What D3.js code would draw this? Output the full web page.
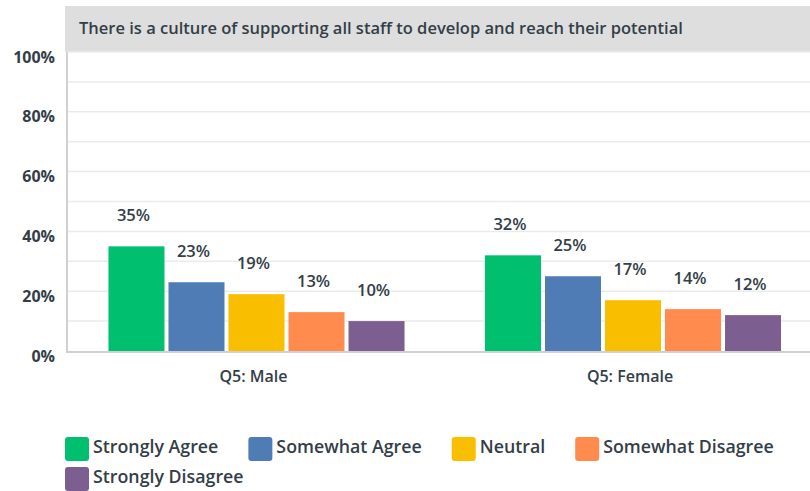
<!DOCTYPE html>
<html>
<head>
<meta charset="utf-8">
<script src="https://cdn.jsdelivr.net/npm/d3@7"></script>
<style>
  body { margin: 0; background: #fff; }
  svg text { font-family: "Open Sans", Roboto, sans-serif; fill: #333e48; }
</style>
</head>
<body>
<div id="chart"></div>
<script>
// data
var groups = ["Q5: Male", "Q5: Female"];
var series = ["Strongly Agree", "Somewhat Agree", "Neutral", "Somewhat Disagree", "Strongly Disagree"];
var colors = ["#00bf6f", "#507cb6", "#f9be00", "#ff8b4f", "#7d5e90"];
var maleValues = [35, 23, 19, 13, 10];
var femaleValues = [32, 25, 17, 14, 12];
var yTicks = [0, 20, 40, 60, 80, 100];
var title = "There is a culture of supporting all staff to develop and reach their potential";

var width = 810, height = 491;

var svg = d3.select("#chart").append("svg")
    .attr("width", width)
    .attr("height", height);

// title band
svg.append("rect")
    .attr("x", 65).attr("y", 6)
    .attr("width", width - 65).attr("height", 46)
    .style("fill", "#dedede");
svg.append("text")
    .attr("x", 79).attr("y", 28)
    .attr("dy", "0.35em")
    .style("font-size", "16.5px")
    .style("font-weight", 600)
    .text(title);

var y = d3.scaleLinear().domain([0, 100]).range([351, 52]);
var x0 = d3.scaleBand().domain(groups).range([68.25, 821.25]).padding(0);
var x1 = d3.scaleBand().domain(series).range([0, x0.bandwidth()])
    .paddingInner(4 / 60).paddingOuter(0.67);
var color = d3.scaleOrdinal().domain(series).range(colors);

// gridlines every 10%
svg.append("g").selectAll("line")
    .data(d3.range(10, 101, 10))
    .enter().append("line")
    .attr("x1", 67).attr("x2", width)
    .attr("y1", function (d) { return y(d); })
    .attr("y2", function (d) { return y(d); })
    .style("stroke", "#ebebeb")
    .style("stroke-width", 1.5);

// y tick labels
svg.append("g").selectAll("text")
    .data(yTicks)
    .enter().append("text")
    .attr("x", 55)
    .attr("y", function (d) { return y(d) + 5; })
    .attr("dy", "0.35em")
    .attr("text-anchor", "end")
    .style("font-size", "16px")
    .style("font-weight", 700)
    .text(function (d) { return d + "%"; });

// axis lines
svg.append("line")
    .attr("x1", 67).attr("x2", 67)
    .attr("y1", 52).attr("y2", y(0) + 1)
    .style("stroke", "#d0d0d0").style("stroke-width", 2);
svg.append("line")
    .attr("x1", 66).attr("x2", width)
    .attr("y1", y(0) + 1).attr("y2", y(0) + 1)
    .style("stroke", "#d0d0d0").style("stroke-width", 2);

var rows = groups.map(function (g, i) {
    var vals = i === 0 ? maleValues : femaleValues;
    return { group: g, values: series.map(function (s, j) { return { key: s, value: vals[j] }; }) };
});

var groupSel = svg.append("g").selectAll("g")
    .data(rows)
    .enter().append("g")
    .attr("transform", function (d) { return "translate(" + x0(d.group) + ",0)"; });

groupSel.selectAll("rect")
    .data(function (d) { return d.values; })
    .enter().append("rect")
    .attr("x", function (d) { return x1(d.key); })
    .attr("y", function (d) { return y(d.value); })
    .attr("width", x1.bandwidth())
    .attr("height", function (d) { return y(0) - y(d.value); })
    .style("fill", function (d) { return color(d.key); });

groupSel.selectAll("text.val")
    .data(function (d) { return d.values; })
    .enter().append("text")
    .attr("class", "val")
    .attr("x", function (d) { return x1(d.key) + x1.bandwidth() / 2 - 3; })
    .attr("y", function (d) { return y(d.value) - 31; })
    .attr("dy", "0.35em")
    .attr("text-anchor", "middle")
    .style("font-size", "16.5px")
    .style("font-weight", 600)
    .text(function (d) { return d.value + "%"; });

// category labels
svg.append("g").selectAll("text")
    .data(groups)
    .enter().append("text")
    .attr("x", function (d) { return x0(d) + x0.bandwidth() / 2 - 3; })
    .attr("y", 376)
    .attr("dy", "0.35em")
    .attr("text-anchor", "middle")
    .style("font-size", "16px")
    .style("font-weight", 600)
    .text(function (d) { return d; });

// legend, laid out by measured widths
var legend = svg.append("g");
var lx = 65, ly = 437, maxX = 795;
series.forEach(function (s, i) {
    var item = legend.append("g");
    item.append("rect")
        .attr("width", 24).attr("height", 24)
        .attr("rx", 3)
        .style("fill", colors[i]);
    var t = item.append("text")
        .attr("x", 28).attr("y", 10)
        .attr("dy", "0.35em")
        .style("font-size", "17.8px")
        .style("font-weight", 600)
        .text(s);
    var w = 28 + t.node().getComputedTextLength();
    if (lx + w > maxX) { lx = 65; ly += 30; }
    item.attr("transform", "translate(" + lx + "," + ly + ")");
    lx += w + 30;
});
</script>
</body>
</html>
